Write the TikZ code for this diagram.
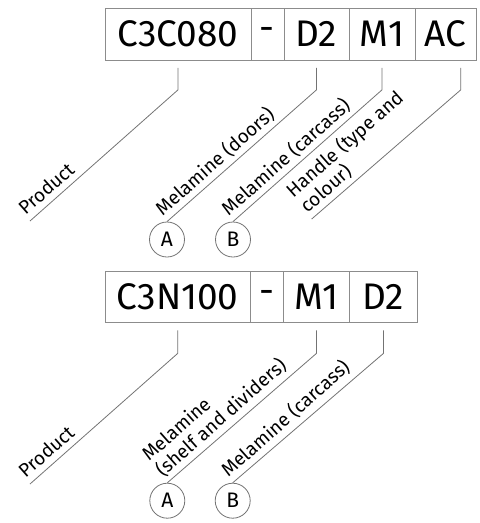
\documentclass[tikz,border=0pt]{standalone}
\usepackage{fontspec}
\setmainfont{Fira Sans}
\begin{document}
\begin{tikzpicture}[x=1pt,y=-1pt,
  cell/.style={draw=black!45, line width=0.9pt, minimum height=52pt, inner sep=0pt, font=\fontsize{37}{40}\selectfont, anchor=north west},
  conn/.style={draw=black!55, line width=0.8pt},
  circ/.style={circle, draw=black!55, line width=0.8pt, minimum size=35pt, inner sep=0pt, font=\fontsize{21}{22}\selectfont},
  lab/.style={rotate=41.5, anchor=south west, inner xsep=0pt, inner ysep=6.5pt, text depth=0pt, align=left, font=\fontsize{19}{21}\selectfont}]
\useasboundingbox (0,0) rectangle (480,523);
% top row
\node[cell, minimum width=146pt] (t1) at (104.5,7.5) {C3C080};
\node[cell, minimum width=33pt] (t2) at (250.5,7.5) {\raisebox{-4pt}{-}};
\node[cell, minimum width=65pt] (t3) at (283.5,7.5) {D2};
\node[cell, minimum width=66pt] (t4) at (348.5,7.5) {M1};
\node[cell, minimum width=61.5pt] (t5) at (414.5,7.5) {AC};
\node[circ] (tA) at (167,239.5) {A};
\node[circ] (tB) at (233,239.5) {B};
\coordinate (tp) at (30,221);
\coordinate (th) at (311.7,219);
\draw[conn] ([yshift=-7.5pt]t1.south) -- ++(0,22) -- (tp);
\draw[conn] ([yshift=-7.5pt]t3.south) -- ++(0,22) -- (tA.north);
\draw[conn] ([yshift=-7.5pt]t4.south) -- ++(0,22) -- (tB.north);
\draw[conn] ([xshift=15pt,yshift=-7.5pt]t5.south) -- ++(0,22) -- (th);
\node[lab] (lp) at (tp) {Product};
\node[lab] (ld) at (tA.north) {Melamine (doors)};
\node[lab] (lc) at (tB.north) {Melamine (carcass)};
\node[lab] (lh) at (th) {Handle (type and\\colour)};
% bottom row
\node[cell, minimum width=145.5pt, minimum height=51pt] (b1) at (104.5,271) {C3N100};
\node[cell, minimum width=33.3pt, minimum height=51pt] (b2) at (250,271) {\raisebox{-4pt}{-}};
\node[cell, minimum width=65.4pt, minimum height=51pt] (b3) at (283.3,271) {M1};
\node[cell, minimum width=68.6pt, minimum height=51pt] (b4) at (348.7,271) {D2};
\node[circ] (bA) at (167.3,500.7) {A};
\node[circ] (bB) at (232.7,500.7) {B};
\coordinate (bp) at (30,484);
\draw[conn] ([yshift=-7.5pt]b1.south) -- ++(0,23) -- (bp);
\draw[conn] ([yshift=-7.5pt]b3.south) -- ++(0,23) -- (bA.north);
\draw[conn] ([yshift=-7.5pt]b4.south) -- ++(0,23) -- (bB.north);
\node[lab] (lbp) at (bp) {Product};
\node[lab] (lbs) at (bA.north) {Melamine\\(shelf and dividers)};
\node[lab] (lbc) at (bB.north) {Melamine (carcass)};
\end{tikzpicture}
\end{document}
